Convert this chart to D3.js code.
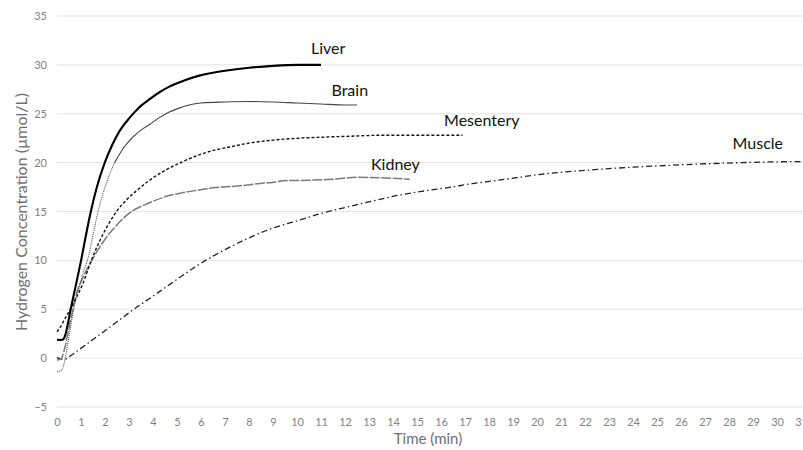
<!DOCTYPE html>
<html><head><meta charset="utf-8">
<script src="https://cdn.jsdelivr.net/npm/d3@7"></script>
<style>
html,body{margin:0;padding:0;background:#fff;overflow:hidden}
svg{display:block;font-family:Lato,"Open Sans",sans-serif}
</style></head>
<body>
<svg id="chart" width="803" height="450"></svg>
<script>
// ---- data ----
const xTicks = d3.range(0, 32, 1);
const yTicks = [-5, 0, 5, 10, 15, 20, 25, 30, 35];

const liverT = [0, 0.1, 0.25, 0.35, 0.45, 0.57, 0.7, 0.85, 1.02, 1.2, 1.41, 1.65, 1.99, 2.3, 2.6, 3.03, 3.4, 3.86, 4.27, 4.7, 5.3, 5.93, 6.5, 7.0, 8.0, 9.0, 10.1, 11.0];
const liverV = [1.9, 1.85, 1.9, 2.4, 3.5, 5.0, 6.5, 8.2, 10.2, 12.5, 15.0, 17.4, 20.0, 21.8, 23.2, 24.6, 25.6, 26.5, 27.2, 27.8, 28.4, 28.9, 29.2, 29.4, 29.7, 29.9, 30.0, 30.0];

const brainT = [0, 0.1, 0.2, 0.3, 0.45, 0.6, 0.7, 0.9, 1.1, 1.3, 1.5, 1.71, 2.0, 2.4, 2.8, 3.2, 3.6, 3.86, 4.2, 4.7, 5.0, 5.5, 6.0, 7.0, 8.0, 9.0, 10.0, 11.0, 12.0, 12.5];
const brainV = [-1.4, -1.35, -1.2, -0.5, 1.5, 3.7, 5.0, 7.0, 8.8, 10.3, 12.6, 15.0, 17.5, 20.0, 21.6, 22.7, 23.5, 23.9, 24.5, 25.2, 25.5, 25.9, 26.1, 26.2, 26.25, 26.2, 26.1, 26.0, 25.9, 25.9];

const mesenteryT = [0, 0.15, 0.3, 0.6, 0.85, 1.09, 1.4, 1.78, 2.1, 2.48, 2.9, 3.3, 3.86, 4.5, 5.24, 5.93, 6.6, 7.2, 8.0, 9.0, 10.1, 11.0, 12.2, 13.5, 15.0, 16.9];
const mesenteryV = [2.7, 3.2, 3.9, 5.2, 6.4, 7.7, 9.8, 12.0, 13.5, 15.0, 16.2, 17.1, 18.2, 19.2, 20.1, 20.8, 21.3, 21.6, 22.0, 22.3, 22.5, 22.6, 22.7, 22.8, 22.8, 22.8];

const kidneyT = [0, 0.15, 0.3, 0.45, 0.6, 0.8, 1.09, 1.3, 1.5, 1.9, 2.48, 3.0, 3.86, 4.5, 5.2, 5.93, 6.6, 7.5, 8.4, 9.2, 9.4, 10.5, 11.5, 12.6, 13.5, 14.7];
const kidneyV = [-0.2, -0.1, 0.8, 2.5, 4.3, 6.5, 8.3, 9.3, 10.2, 11.8, 13.6, 14.8, 15.9, 16.5, 16.9, 17.2, 17.45, 17.6, 17.85, 18.05, 18.15, 18.2, 18.3, 18.5, 18.45, 18.3];

const muscleT = [0, 0.15, 0.33, 0.6, 1.0, 1.5, 2.0, 2.6, 3.2, 3.86, 4.5, 5.2, 5.93, 7.0, 8.0, 9.0, 10.08, 11.0, 12.16, 13.2, 14.2, 15.3, 16.3, 17.3, 18.4, 20.0, 22.5, 24.5, 26.7, 28.5, 30.8, 31.0];
const muscleV = [0.1, -0.1, -0.1, 0.3, 1.0, 1.9, 2.8, 3.9, 5.0, 6.1, 7.2, 8.4, 9.6, 11.1, 12.3, 13.3, 14.1, 14.8, 15.5, 16.1, 16.65, 17.1, 17.45, 17.85, 18.2, 18.75, 19.3, 19.6, 19.85, 20.0, 20.1, 20.1];

const seriesNames = ["Liver", "Brain", "Mesentery", "Kidney", "Muscle"];
// label anchor (data coords) for each series
const labelT = [11.3, 12.2, 17.7, 14.1, 29.2];
const labelV = [31.5, 27.2, 24.2, 19.7, 21.8];

// ---- chart ----
const svg = d3.select("#chart");
const x = d3.scaleLinear().domain([0, 31]).range([57, 801]);
const y = d3.scaleLinear().domain([-5, 35]).range([407, 16]);

// gridlines
svg.append("g").selectAll("line").data(yTicks).join("line")
  .attr("x1", 57).attr("x2", 803)
  .attr("y1", d => y(d)).attr("y2", d => y(d))
  .attr("stroke", "#e3e3e3").attr("stroke-width", 1);

// y axis labels
const yAxis = svg.append("g").attr("transform", "translate(57,0)")
  .call(d3.axisLeft(y).tickValues(yTicks).tickSize(0).tickPadding(10));
yAxis.select(".domain").remove();
yAxis.selectAll("text").attr("fill", "#7f7f7f").style("font-size", "11px").style("font-family", "Lato, 'Open Sans', sans-serif");

// x axis labels
const xAxis = svg.append("g").attr("transform", "translate(0,415)")
  .call(d3.axisBottom(x).tickValues(xTicks).tickSize(0).tickPadding(3).tickFormat(d3.format("d")));
xAxis.select(".domain").remove();
xAxis.selectAll("text").attr("fill", "#7f7f7f").style("font-size", "11px").style("font-family", "Lato, 'Open Sans', sans-serif");

// axis titles
svg.append("text").attr("x", 428).attr("y", 444).attr("text-anchor", "middle")
  .attr("fill", "#6f6f6f").style("font-size", "15px").text("Time (min)");
svg.append("text").attr("transform", "translate(27,212) rotate(-90)").attr("text-anchor", "middle")
  .attr("fill", "#6f6f6f").style("font-size", "16px").text("Hydrogen Concentration (µmol/L)");

const line = d3.line().x(d => x(d[0])).y(d => y(d[1])).curve(d3.curveMonotoneX);
const zip = (t, v) => t.map((d, i) => [d, v[i]]);

const liver = zip(liverT, liverV);
const brain = zip(brainT, brainV);
const mesentery = zip(mesenteryT, mesenteryV);
const kidney = zip(kidneyT, kidneyV);
const muscle = zip(muscleT, muscleV);

const g = svg.append("g").attr("fill", "none");
g.append("path").attr("d", line(muscle)).attr("stroke", "#222").attr("stroke-width", 1.3).attr("stroke-dasharray", "6,3,1.5,3");
g.append("path").attr("d", line(kidney)).attr("stroke", "#7a7a7a").attr("stroke-width", 1.5).attr("stroke-dasharray", "10,1.5");
g.append("path").attr("d", line(mesentery)).attr("stroke", "#111").attr("stroke-width", 1.4).attr("stroke-dasharray", "3,2");
g.append("path").attr("d", line(brain.filter(d => d[0] <= 2.4))).attr("stroke", "#555").attr("stroke-width", 1.1).attr("stroke-dasharray", "1,1");
g.append("path").attr("d", line(brain.filter(d => d[0] >= 2.4))).attr("stroke", "#444").attr("stroke-width", 1.1);
g.append("path").attr("d", line(liver)).attr("stroke", "#000").attr("stroke-width", 2.1);

// series labels
svg.append("g").selectAll("text").data(seriesNames).join("text")
  .attr("x", (d, i) => x(labelT[i])).attr("y", (d, i) => y(labelV[i]))
  .attr("text-anchor", "middle").attr("dominant-baseline", "middle")
  .attr("fill", "#111").style("font-size", "16px").text(d => d);
</script>
</body></html>
